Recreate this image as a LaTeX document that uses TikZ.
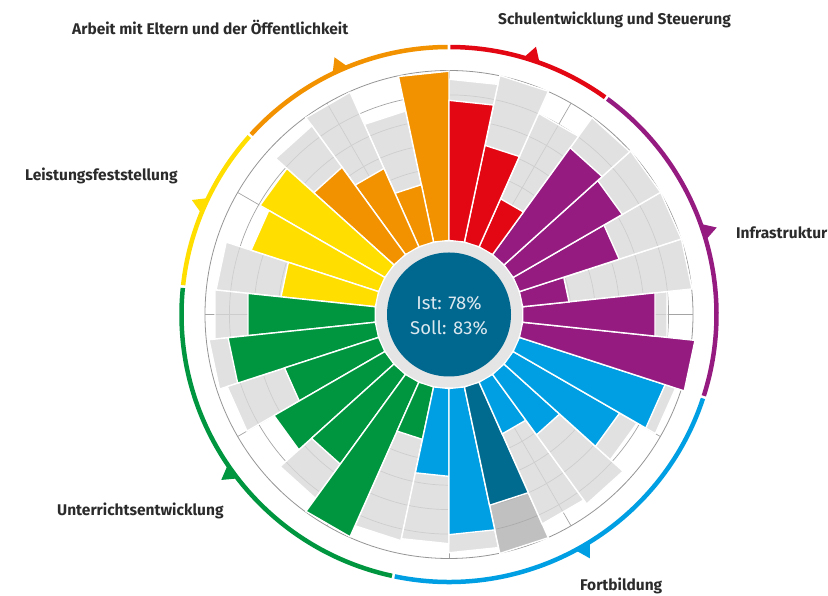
\documentclass[tikz,border=0pt]{standalone}
\usepackage{fontspec}
\setmainfont{Fira Sans}
\definecolor{cred}{HTML}{E30613}
\definecolor{cpur}{HTML}{951B81}
\definecolor{cblu}{HTML}{009FE3}
\definecolor{cteal}{HTML}{006A8F}
\definecolor{cgrn}{HTML}{009640}
\definecolor{cyel}{HTML}{FFDE00}
\definecolor{corg}{HTML}{F39200}
\definecolor{bgl}{HTML}{D9D9D9}
\definecolor{bgd}{HTML}{AFAFAF}
\definecolor{gridc}{HTML}{A4A4A4}
\definecolor{outc}{HTML}{959595}
\definecolor{disk}{HTML}{00678E}
\definecolor{ringg}{HTML}{E5E5E5}
\definecolor{txt}{HTML}{2B2B2B}
\definecolor{disktxt}{HTML}{DCE8EF}
\tikzset{
  catlabel/.style={text=txt, font=\fontsize{15.5}{18}\selectfont\bfseries, inner sep=0pt},
  centerlabel/.style={text=disktxt, font=\fontsize{18.5}{22}\selectfont, inner sep=0pt},
  gridline/.style={draw=gridc, line width=0.7pt},
  sepline/.style={draw=white, line width=1.4pt, line join=miter},
  ringarc/.style={line width=4.5pt},
}
\begin{document}
\begin{tikzpicture}[x=1pt,y=1pt]
\useasboundingbox (0,0) rectangle (828,596);
\begin{scope}[shift={(449,281.5)}]
  % outer coloured ring
  \foreach \s/\e/\c in {54.3/89.7/cred, 90.3/137.7/corg, 138.3/173.7/cyel, 174.3/257.7/cgrn, 258.3/341.7/cblu, 342.3/413.7/cpur}
    \draw[ringarc, \c] (\s:267.5) arc[start angle=\s, end angle=\e, radius=267.5];
  \foreach \m/\c in {72/cred, 114/corg, 156/cyel, 216/cgrn, 300/cblu, 18/cpur}
    \fill[\c] ({\m-2.0}:266) -- (\m:281.5) -- ({\m+2.0}:266) -- cycle;
  % grid
  \foreach \r in {121.9,146.3,170.7,195.1,219.6}
    \draw[gridline] (0,0) circle[radius=\r];
  \draw[draw=outc, line width=0.8pt] (0,0) circle[radius=244];
  \foreach \t in {0,30,...,330}
    \draw[gridline] (\t:74) -- (\t:244);
  % grey backgrounds
  \foreach \a/\g/\gc in {96/74/bgl, 108/207/bgl, 120/242/bgl, 132/232/bgl,
      144/74/bgl, 156/74/bgl, 168/233/bgl,
      180/234/bgl, 192/240/bgl, 204/232/bgl, 216/74/bgl, 228/226/bgl, 240/74/bgl, 252/230/bgl,
      264/228/bgl, 276/237/bgl, 288/243/bgd, 300/228/bgl, 312/233/bgl, 324/216/bgl, 336/237/bgl,
      348/74/bgl, 0/218/bgl, 12/243/bgl, 24/243/bgl, 36/243/bgl, 48/242/bgl,
      60/219/bgl, 72/243/bgl, 84/234/bgl}
  {
    \fill[\gc, fill opacity=0.79] ({\a-6}:74) -- ({\a-6}:{\g/cos(6)}) -- ({\a+6}:{\g/cos(6)}) -- ({\a+6}:74) -- cycle;
    \draw[sepline] ({\a-6}:74) -- ({\a-6}:{\g/cos(6)}) -- ({\a+6}:{\g/cos(6)}) -- ({\a+6}:74);
  }
  % coloured bars
  \foreach \a/\v/\c in {96/242/corg, 108/132/corg, 120/159/corg, 132/181/corg,
      144/217/cyel, 156/207/cyel, 168/168/cyel,
      180/201/cgrn, 192/221/cgrn, 204/172/cgrn, 216/201/cgrn, 228/184/cgrn, 240/242/cgrn, 252/127/cgrn,
      264/161/cblu, 276/219/cblu, 288/194/cteal, 300/130/cblu, 312/148/cblu, 324/196/cblu, 336/226/cblu,
      348/246/cpur, 0/206/cpur, 12/120/cpur, 24/178/cpur, 36/199/cpur, 48/205/cpur,
      60/126/cred, 72/172/cred, 84/213/cred}
  {
    \filldraw[fill=\c, sepline] ({\a-6}:74) -- ({\a-6}:{\v/cos(6)}) -- ({\a+6}:{\v/cos(6)}) -- ({\a+6}:74) -- cycle;
  }
  % centre
  \fill[ringg] (0,0) circle[radius=73];
  \fill[disk] (0,0) circle[radius=62];
\end{scope}
\node[centerlabel, anchor=base] (ist) at (449,286) {Ist: 78\%};
\node[centerlabel, anchor=base] (soll) at (449,261) {Soll: 83\%};
\node[catlabel, anchor=base west] (arbeit) at (72,561) {Arbeit mit Eltern und der Öffentlichkeit};
\node[catlabel, anchor=base west] (schul) at (498,571) {Schulentwicklung und Steuerung};
\node[catlabel, anchor=base west] (infra) at (736,357) {Infrastruktur};
\node[catlabel, anchor=base west] (leist) at (25,415) {Leistungsfeststellung};
\node[catlabel, anchor=base west] (unter) at (57,80) {Unterrichtsentwicklung};
\node[catlabel, anchor=base west] (fort) at (580,5) {Fortbildung};
\end{tikzpicture}
\end{document}
